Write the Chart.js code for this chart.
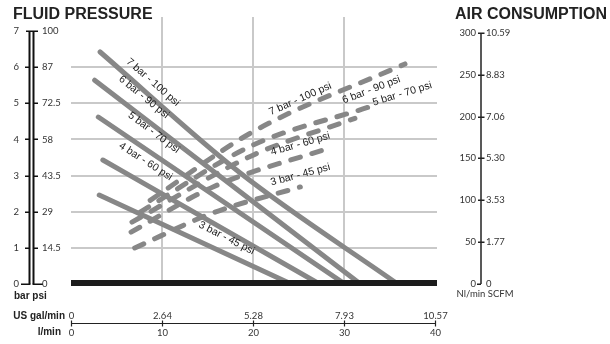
<!DOCTYPE html>
<html><head><meta charset="utf-8">
<script src="https://cdn.jsdelivr.net/npm/chart.js@4/dist/chart.umd.min.js"></script>
<style>html,body{margin:0;padding:0;background:#fff;}canvas{display:block;}</style>
</head><body>
<canvas id="c" width="610" height="344"></canvas>
<script>
// ---- DATA ----
const pressureNames = ['7 bar - 100 psi','6 bar - 90 psi','5 bar - 70 psi','4 bar - 60 psi','3 bar - 45 psi'];
// fluid pressure curves: [l/min, bar]
const fluid7 = [[3.2,6.42],[18.6,3.07],[35.9,0]];
const fluid6 = [[2.6,5.64],[31.8,0]];
const fluid5 = [[3.0,4.62],[30.1,0]];
const fluid4 = [[3.5,3.43],[27.3,0]];
const fluid3 = [[3.1,2.46],[24.2,0]];
// air consumption curves: [l/min, Nl/min]
const air7 = [[8.7,100],[20,182],[36.7,263]];
const air6 = [[7.6,86],[20,166],[32.6,211]];
const air5 = [[6.7,74],[20,154],[31.2,198]];
const air4 = [[6.6,62],[15.6,116],[28.2,162]];
const air3 = [[7.0,43],[15.6,85],[25.2,116]];
// axis ticks
const barTicks = [0,1,2,3,4,5,6,7];
const psiTicks = ['0','14.5','29','43.5','58','72.5','87','100'];
const airTicks = [0,50,100,150,200,250,300];
const scfmTicks = ['0','1.77','3.53','5.30','7.06','8.83','10.59'];
const lminTicks = [0,10,20,30,40];
const galTicks = ['0','2.64','5.28','7.93','10.57'];
const gridX = [10,20,30];
const gridY = [1,2,3,4,5,6];
// label anchors (l/min, bar, angle deg)
const fluidLabelAt = [[9.0,5.58,41],[8.0,5.17,39],[9.1,4.19,37],[8.2,3.39,33],[17.1,1.27,27]];
const airLabelAt = [[25.2,5.12,-24],[33.0,5.37,-21],[36.4,5.26,-17],[25.2,3.87,-16],[25.2,3.02,-15]];

const GREY = '#878787';
const pts = a => a.map(p => ({x:p[0], y:p[1]}));
const fluidSets = [fluid7,fluid6,fluid5,fluid4,fluid3];
const airSets = [air7,air6,air5,air4,air3];
const datasets = [];
fluidSets.forEach((s,i)=>datasets.push({label:'fluid '+pressureNames[i], data:pts(s), yAxisID:'y',
  borderColor:GREY, borderWidth:5, borderCapStyle:'round', borderJoinStyle:'round', pointRadius:0,
  cubicInterpolationMode:'monotone'}));
airSets.forEach((s,i)=>datasets.push({label:'air '+pressureNames[i], data:pts(s), yAxisID:'y2',
  borderColor:GREY, borderWidth:5, borderCapStyle:'round', borderDash:[10,12], pointRadius:0,
  cubicInterpolationMode:'monotone'}));

const gridPlugin = {
  id:'grid',
  beforeDatasetsDraw(chart){
    const {ctx, chartArea:a, scales:{x,y}} = chart;
    ctx.save();
    ctx.strokeStyle = '#c9c9c9'; ctx.lineWidth = 2;
    gridY.forEach(v=>{const py=Math.round(y.getPixelForValue(v)); ctx.beginPath(); ctx.moveTo(a.left,py); ctx.lineTo(a.right+2,py); ctx.stroke();});
    gridX.forEach(v=>{const px=Math.round(x.getPixelForValue(v)); ctx.beginPath(); ctx.moveTo(px,a.top); ctx.lineTo(px,y.getPixelForValue(0)); ctx.stroke();});
    ctx.restore();
  }
};

const decoPlugin = {
  id:'deco',
  afterDatasetsDraw(chart){
    const {ctx, chartArea:a, scales:{x,y,y2}} = chart;
    ctx.save();
    // baseline
    const y0 = y.getPixelForValue(0);
    ctx.fillStyle = '#1c1c1c';
    ctx.fillRect(a.left, y0-4, a.right+2-a.left, 6);
    // curve labels
    ctx.fillStyle = '#222';
    ctx.font = '10.5px "Liberation Sans", Arial, sans-serif';
    ctx.textAlign='center'; ctx.textBaseline='middle';
    const lab = (arr)=>arr.forEach((p,i)=>{
      ctx.save(); ctx.translate(x.getPixelForValue(p[0]), y.getPixelForValue(p[1]));
      ctx.rotate(p[2]*Math.PI/180); ctx.fillText(pressureNames[i],0,0); ctx.restore();
    });
    lab(fluidLabelAt); lab(airLabelAt);
    // titles
    ctx.fillStyle='#222';
    ctx.font = 'bold 16px "Liberation Sans", Arial, sans-serif';
    ctx.textAlign='left'; ctx.textBaseline='alphabetic';
    ctx.fillText('FLUID PRESSURE', 13, 19);
    ctx.fillText('AIR CONSUMPTION', 455, 19);
    // left axes
    ctx.strokeStyle='#111'; ctx.lineWidth=2;
    const yTop = y.getPixelForValue(7);
    const bx = 29.5, px = 33.5;
    ctx.beginPath(); ctx.moveTo(bx,yTop); ctx.lineTo(bx,y0); ctx.stroke();
    ctx.beginPath(); ctx.moveTo(px,yTop); ctx.lineTo(px,y0); ctx.stroke();
    ctx.lineWidth=1.5;
    barTicks.forEach(v=>{
      const py=Math.round(y.getPixelForValue(v))+0.25;
      ctx.beginPath();
      if(v===0){ctx.moveTo(21,py);ctx.lineTo(bx+1,py);ctx.moveTo(px-1,py);ctx.lineTo(43,py);}
      else if(v===7){ctx.moveTo(26,py);ctx.lineTo(31.5,py);ctx.moveTo(31.5,py);ctx.lineTo(38,py);}
      else {ctx.moveTo(25,py);ctx.lineTo(bx,py);ctx.moveTo(px,py);ctx.lineTo(38,py);}
      ctx.stroke();
    });
    ctx.fillStyle='#333';
    ctx.font='9.5px Lato, "Open Sans", sans-serif';
    ctx.textBaseline='middle';
    barTicks.forEach((v,i)=>{
      const py=y.getPixelForValue(v);
      ctx.textAlign='right'; ctx.fillText(String(v), 19, py);
      ctx.textAlign='left'; ctx.fillText(psiTicks[i], 42, py);
    });
    ctx.font='bold 10px "Liberation Sans", Arial, sans-serif';
    ctx.fillStyle='#222';
    ctx.textAlign='left'; ctx.fillText('bar psi', 14, 296);
    // right axis
    const rx = 481;
    const r0 = y2.getPixelForValue(0), rTop = y2.getPixelForValue(300);
    ctx.strokeStyle='#222'; ctx.lineWidth=1.5;
    ctx.beginPath(); ctx.moveTo(rx,rTop); ctx.lineTo(rx,r0); ctx.stroke();
    ctx.font='9.5px Lato, "Open Sans", sans-serif';
    ctx.fillStyle='#333';
    airTicks.forEach((v,i)=>{
      const py=Math.round(y2.getPixelForValue(v))+0.25;
      ctx.beginPath();
      if(v===0){ctx.moveTo(477,py);ctx.lineTo(rx,py);} else {ctx.moveTo(478,py);ctx.lineTo(484.5,py);}
      ctx.stroke();
      ctx.textAlign='right'; ctx.fillText(String(v), 476, py);
      ctx.textAlign='left'; ctx.fillText(scfmTicks[i], 486, py);
    });
    ctx.textAlign='center'; ctx.fillText('Nl/min SCFM', 485, 294);
    // bottom axis
    const by = 323.5;
    ctx.lineWidth=1.2;
    ctx.beginPath(); ctx.moveTo(x.getPixelForValue(0),by); ctx.lineTo(x.getPixelForValue(40),by); ctx.stroke();
    lminTicks.forEach((v,i)=>{
      const pxv=Math.round(x.getPixelForValue(v))+0.5;
      ctx.beginPath(); ctx.moveTo(pxv,by-3); ctx.lineTo(pxv,by+3); ctx.stroke();
      ctx.textAlign='center';
      ctx.fillText(galTicks[i], pxv, 316);
      ctx.fillText(String(v), pxv, 333);
    });
    ctx.font='bold 10px "Liberation Sans", Arial, sans-serif';
    ctx.fillStyle='#222';
    ctx.textAlign='right';
    ctx.fillText('US gal/min', 65, 316);
    ctx.fillText('l/min', 61, 332);
    ctx.restore();
  }
};

new Chart(document.getElementById('c'), {
  type:'line',
  data:{datasets},
  options:{
    responsive:false, animation:false, devicePixelRatio:1,
    layout:{padding:{left:71, right:175, top:17, bottom:60}},
    scales:{
      x:{type:'linear', min:0, max:40, display:false},
      y:{type:'linear', min:0, max:7.388, display:false},
      y2:{type:'linear', min:0, max:319.1, display:false}
    },
    plugins:{legend:{display:false}, tooltip:{enabled:false}},
    elements:{point:{radius:0}}
  },
  plugins:[gridPlugin, decoPlugin]
});
</script>
</body></html>
